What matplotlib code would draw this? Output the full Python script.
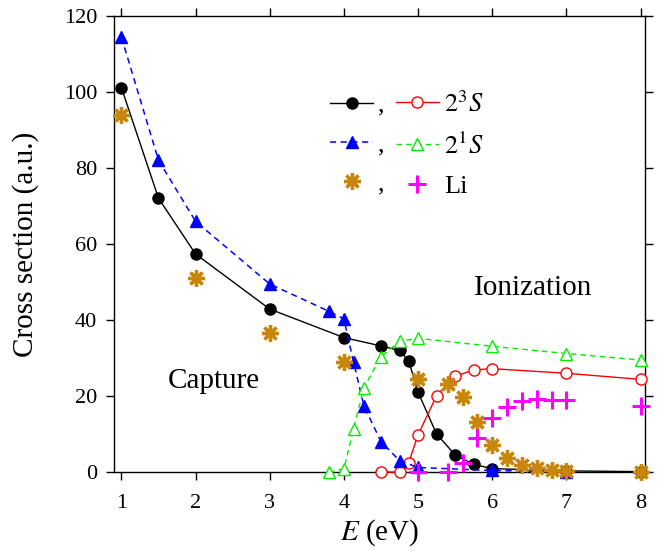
"""
Capture / ionization cross sections vs collision energy
"""
import matplotlib
matplotlib.use("Agg")
import matplotlib.pyplot as plt

plt.rcParams["font.family"] = ["Liberation Serif", "DejaVu Serif"]
plt.rcParams["mathtext.fontset"] = "stix"

# 2^3S: capture (filled circles) and ionization (open circles)
e_3s_cap = [1, 1.5, 2, 3, 4, 4.5, 4.75, 4.875, 5, 5.25, 5.5, 5.75, 6, 7, 8]
sig_3s_cap = [101.2, 72.1, 57.4, 42.9, 35.4, 33.2, 32.0, 29.2, 21.0, 10.0, 4.5, 2.0, 0.9, 0.3, 0.1]
e_3s_ion = [4.5, 4.75, 4.875, 5, 5.25, 5.5, 5.75, 6, 7, 8]
sig_3s_ion = [0.0, 0.0, 2.5, 9.8, 20.1, 25.2, 26.9, 27.2, 26.0, 24.4]

# 2^1S: capture (filled triangles) and ionization (open triangles)
e_1s_cap = [1, 1.5, 2, 3, 3.8, 4, 4.13, 4.27, 4.5, 4.75, 5, 6, 7]
sig_1s_cap = [114.5, 82.1, 66.0, 49.5, 42.3, 40.3, 29.0, 17.4, 8.0, 3.0, 1.2, 0.4, 0.1]
e_1s_ion = [3.8, 4, 4.13, 4.27, 4.5, 4.75, 5, 6, 7, 8]
sig_1s_ion = [0.0, 0.8, 11.4, 22.2, 30.4, 34.4, 35.2, 33.1, 31.2, 29.5]

# Li: capture (asterisks) and ionization (plus)
e_li_cap = [1, 2, 3, 4, 5, 5.4, 5.6, 5.8, 6, 6.2, 6.4, 6.6, 6.8, 7, 8]
sig_li_cap = [94.0, 51.2, 36.5, 29.0, 24.5, 23.2, 19.7, 13.3, 7.2, 3.8, 1.9, 1.0, 0.6, 0.3, 0.0]
e_li_ion = [5, 5.4, 5.6, 5.8, 6, 6.2, 6.4, 6.6, 6.8, 7, 8]
sig_li_ion = [0.0, 0.0, 2.3, 8.9, 14.1, 17.1, 18.8, 19.1, 19.0, 18.9, 17.4]

x_ticks = [1, 2, 3, 4, 5, 6, 7, 8]
y_ticks = [0, 20, 40, 60, 80, 100, 120]

BROWN = "#c8860a"
MAGENTA = "#ff00ff"
ASTER = (8, 2, 0)

fig = plt.figure(figsize=(6.69, 5.52), dpi=100)
ax = fig.add_axes([0.1704, 0.1449, 0.7937, 0.8256])

kw = dict(clip_on=False, zorder=3)
h_bc, = ax.plot(e_3s_cap, sig_3s_cap, "-", color="black", lw=1.0, marker="o",
                ms=8, mfc="black", mec="black", **kw)
h_ro, = ax.plot(e_3s_ion, sig_3s_ion, "-", color="red", lw=1.0, marker="o",
                ms=8, mfc="white", mec="red", mew=1.0, **kw)
h_bt, = ax.plot(e_1s_cap, sig_1s_cap, "--", color="blue", lw=1.1, marker="^",
                ms=8.5, mfc="blue", mec="blue", dashes=(4, 3), **kw)
h_gt, = ax.plot(e_1s_ion, sig_1s_ion, "--", color="#00ee00", lw=1.0, marker="^",
                ms=8.5, mfc="white", mec="#00ee00", mew=1.0, dashes=(4, 3), **kw)
h_as, = ax.plot(e_li_cap, sig_li_cap, ls="none", marker=ASTER, ms=12,
                mec=BROWN, mew=2.4, **kw)
h_pl, = ax.plot(e_li_ion, sig_li_ion, ls="none", marker="+", ms=13,
                mec=MAGENTA, mew=2.2, **kw)

ax.set_xlim(0.9, 8.06)
ax.set_ylim(0, 120)
ax.set_xticks(x_ticks)
ax.set_yticks(y_ticks)
ax.tick_params(direction="out", length=6, width=1.0, labelsize=16,
               top=True, right=True, pad=6)
ax.tick_params(axis="x", pad=10)
for s in ax.spines.values():
    s.set_linewidth(1.0)

ax.set_xlabel("$E$ (eV)", fontsize=21, labelpad=3)
ax.set_ylabel("Cross section (a.u.)", fontsize=21, labelpad=18)

ax.text(2.25, 24, "Capture", fontsize=21, ha="center", va="center")
ax.text(6.55, 48.5, "Ionization", fontsize=21, ha="center", va="center")

# two-column legend: "capture , ionization  label"
leg_kw = dict(frameon=False, fontsize=19, handlelength=1.63, handletextpad=0.2,
              labelspacing=0.6, borderpad=0, borderaxespad=0, numpoints=1,
              loc="center left")
leg1 = ax.legend([h_bc, h_bt, h_as], [",", ",", ","],
                 bbox_to_anchor=(0.407, 0.719), **leg_kw)
ax.add_artist(leg1)
ax.legend([h_ro, h_gt, h_pl], ["$2^3S$", "$2^1S$", "Li"],
          bbox_to_anchor=(0.531, 0.719), **leg_kw)

plt.savefig("out.png", dpi=100)
plt.close(fig)
